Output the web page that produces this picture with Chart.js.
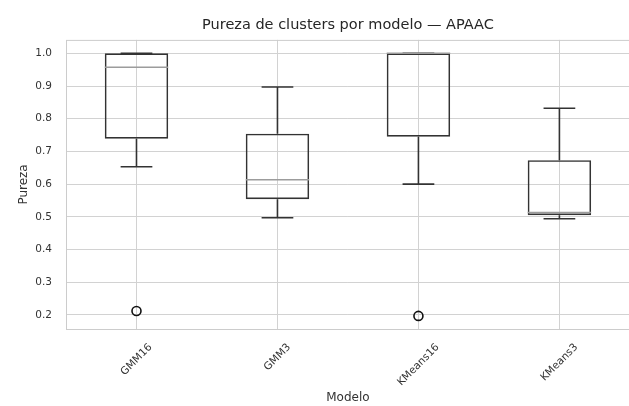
<!DOCTYPE html>
<html lang="es">
<head>
<meta charset="UTF-8">
<title>Pureza de clusters por modelo</title>
<style>
  html, body { margin: 0; padding: 0; overflow: hidden; background: #fff; }
  canvas { display: block; }
</style>
</head>
<body>
<canvas id="grafico" width="636" height="406"></canvas>

<script src="https://cdn.jsdelivr.net/npm/chart.js"></script>
<script>
  // resumen de cada caja (pureza por modelo)
  var modelos   = ['GMM16', 'GMM3', 'KMeans16', 'KMeans3'];
  var bigoteInf = [0.653, 0.497, 0.600, 0.494];
  var cuartil1  = [0.739, 0.554, 0.745, 0.505];
  var mediana   = [0.957, 0.613, 1.000, 0.513];
  var cuartil3  = [1.000, 0.754, 1.000, 0.673];
  var bigoteSup = [1.000, 0.897, 1.000, 0.832];

  // valores atipicos
  var atipicosModelo = ['GMM16', 'KMeans16'];
  var atipicosValor  = [0.212, 0.197];

  var ticksY = [0.2, 0.3, 0.4, 0.5, 0.6, 0.7, 0.8, 0.9, 1.0];

  var colorCaja = '#333333';
  var colorMediana = '#9c9c9c';
  var colorGrid = '#d2d2d2';
  var colorTexto = '#333333';

  Chart.defaults.font.family = '"DejaVu Sans", sans-serif';
  Chart.defaults.color = colorTexto;

  // cada modelo va en la posicion 1, 2, 3... del eje x
  function pos(i) { return i + 1; }

  // media anchura en pixeles de una fraccion de la separacion entre cajas
  function mitadAncho(chart, frac) {
    var x = chart.scales.x;
    return Math.abs(x.getPixelForValue(1 + frac) - x.getPixelForValue(1));
  }

  var cajas = modelos.map(function (m, i) {
    return { x: pos(i), y: [cuartil1[i], cuartil3[i]] };
  });

  var bigotes = [];
  modelos.forEach(function (m, i) {
    bigotes.push({ x: pos(i), y: cuartil3[i] }, { x: pos(i), y: bigoteSup[i] }, { x: pos(i), y: null });
    bigotes.push({ x: pos(i), y: cuartil1[i] }, { x: pos(i), y: bigoteInf[i] }, { x: pos(i), y: null });
  });

  var topes = [];
  modelos.forEach(function (m, i) {
    topes.push({ x: pos(i), y: bigoteSup[i] }, { x: pos(i), y: bigoteInf[i] });
  });

  var medianas = modelos.map(function (m, i) {
    return { x: pos(i), y: mediana[i] };
  });

  var atipicos = atipicosModelo.map(function (m, i) {
    return { x: pos(modelos.indexOf(m)), y: atipicosValor[i] };
  });

  // marco del area de dibujo
  var marco = {
    id: 'marco',
    beforeDatasetsDraw: function (chart) {
      var a = chart.chartArea, ctx = chart.ctx;
      ctx.save();
      ctx.strokeStyle = '#cccccc';
      ctx.lineWidth = 1;
      ctx.strokeRect(a.left + 0.5, a.top + 0.5, a.right - a.left, a.bottom - a.top);
      ctx.restore();
    }
  };

  // etiquetas del eje x giradas 45 grados y centradas en su marca
  var etiquetasX = {
    id: 'etiquetasX',
    afterDraw: function (chart) {
      var ctx = chart.ctx, x = chart.scales.x, a = chart.chartArea;
      ctx.save();
      ctx.font = '10.5px "DejaVu Sans", sans-serif';
      ctx.fillStyle = colorTexto;
      ctx.textAlign = 'center';
      ctx.textBaseline = 'middle';
      modelos.forEach(function (m, i) {
        var w = ctx.measureText(m).width;
        var cx = x.getPixelForValue(pos(i));
        var cy = a.bottom + 14 + (w + 7.6) * Math.SQRT1_2 / 2;
        ctx.save();
        ctx.translate(cx, cy);
        ctx.rotate(-Math.PI / 4);
        ctx.fillText(m, 0, 0);
        ctx.restore();
      });
      ctx.restore();
    }
  };

  var ctx = document.getElementById('grafico').getContext('2d');
  new Chart(ctx, {
    type: 'bar',
    data: {
      datasets: [
        {
          type: 'scatter',
          label: 'Atípicos',
          data: atipicos,
          pointStyle: 'circle',
          pointRadius: 4.5,
          borderColor: '#111111',
          backgroundColor: 'rgba(0,0,0,0)',
          borderWidth: 1.6
        },
        {
          type: 'scatter',
          label: 'Mediana',
          data: medianas,
          pointStyle: 'line',
          pointRadius: function (c) { return mitadAncho(c.chart, 0.225); },
          borderColor: colorMediana,
          borderWidth: 1.5
        },
        {
          type: 'scatter',
          label: 'Topes',
          data: topes,
          pointStyle: 'line',
          pointRadius: function (c) { return mitadAncho(c.chart, 0.1125); },
          borderColor: colorCaja,
          borderWidth: 1.6
        },
        {
          type: 'scatter',
          label: 'Bigotes',
          data: bigotes,
          showLine: true,
          spanGaps: false,
          pointRadius: 0,
          borderColor: colorCaja,
          borderWidth: 1.6
        },
        {
          type: 'bar',
          label: 'Caja',
          data: cajas,
          backgroundColor: 'rgba(0,0,0,0)',
          borderColor: colorCaja,
          borderWidth: 1.6,
          borderSkipped: false,
          barPercentage: 0.45,
          categoryPercentage: 1
        }
      ]
    },
    options: {
      responsive: false,
      animation: false,
      events: [],
      layout: { padding: 0 },
      plugins: {
        legend: { display: false },
        tooltip: { enabled: false },
        title: {
          display: true,
          text: 'Pureza de clusters por modelo — APAAC',
          fullSize: false,
          color: '#262626',
          font: { size: 14.5, weight: 'normal' },
          padding: { top: 16.5, bottom: 6 }
        }
      },
      scales: {
        x: {
          type: 'linear',
          min: 0.5,
          max: 4.5,
          offset: false,
          afterBuildTicks: function (s) {
            s.ticks = modelos.map(function (m, i) { return { value: pos(i) }; });
          },
          afterFit: function (s) { s.height = 77; },
          ticks: { display: false },
          grid: { color: colorGrid, lineWidth: 1, offset: false, drawTicks: false },
          border: { display: false },
          title: {
            display: true,
            text: 'Modelo',
            color: colorTexto,
            font: { size: 12 },
            padding: { top: 0, bottom: 0.5 }
          }
        },
        y: {
          min: 0.157,
          max: 1.041,
          beginAtZero: false,
          afterBuildTicks: function (s) {
            s.ticks = ticksY.map(function (v) { return { value: v }; });
          },
          afterFit: function (s) { s.width = 66; },
          ticks: {
            padding: 14,
            font: { size: 10.5 },
            color: colorTexto,
            callback: function (v) { return Number(v).toFixed(1); }
          },
          grid: { color: colorGrid, lineWidth: 1, drawTicks: false },
          border: { display: false },
          title: {
            display: true,
            text: 'Pureza',
            color: colorTexto,
            font: { size: 12 },
            padding: { top: 16.5, bottom: 0 }
          }
        }
      }
    },
    plugins: [marco, etiquetasX]
  });
</script>
</body>
</html>
